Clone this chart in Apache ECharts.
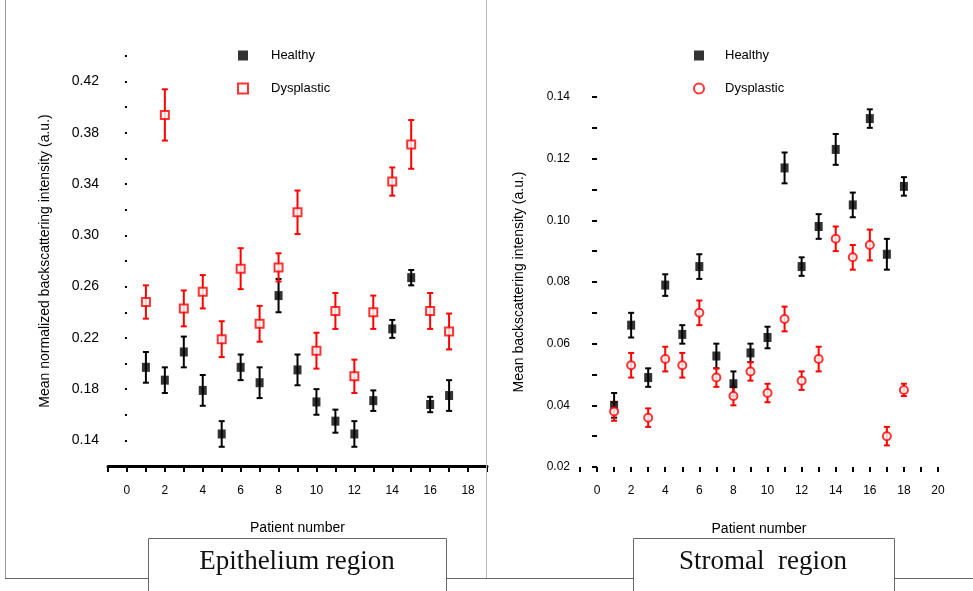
<!doctype html>
<html>
<head>
<meta charset="utf-8">
<title>Epithelium / Stromal region</title>
<style>
  html, body { margin: 0; padding: 0; background: #fff; }
  #main { width: 973px; height: 591px; }
</style>
</head>
<body>
<div id="main"></div>
<script src="https://cdn.jsdelivr.net/npm/echarts@6/dist/echarts.min.js"></script>
<script>
// epithelium region, patients 1-17
var epiPatients = [1, 2, 3, 4, 5, 6, 7, 8, 9, 10, 11, 12, 13, 14, 15, 16, 17];
var epiHealthy = [0.197, 0.187, 0.209, 0.179, 0.145, 0.197, 0.185, 0.253, 0.195, 0.170, 0.155, 0.145, 0.171, 0.227, 0.267, 0.168, 0.175];
var epiHealthyErr = [0.012, 0.010, 0.012, 0.012, 0.010, 0.010, 0.012, 0.013, 0.012, 0.010, 0.009, 0.010, 0.008, 0.007, 0.006, 0.006, 0.012];
var epiDysplastic = [0.248, 0.394, 0.243, 0.256, 0.219, 0.274, 0.231, 0.275, 0.318, 0.210, 0.241, 0.190, 0.240, 0.342, 0.371, 0.241, 0.225];
var epiDysplasticErr = [0.013, 0.020, 0.014, 0.013, 0.014, 0.016, 0.014, 0.011, 0.017, 0.014, 0.014, 0.013, 0.013, 0.011, 0.019, 0.014, 0.014];

// stromal region, patients 1-18
var stromaPatients = [1, 2, 3, 4, 5, 6, 7, 8, 9, 10, 11, 12, 13, 14, 15, 16, 17, 18];
var stromaHealthy = [0.040, 0.066, 0.049, 0.079, 0.063, 0.085, 0.056, 0.047, 0.057, 0.062, 0.117, 0.085, 0.098, 0.123, 0.105, 0.133, 0.089, 0.111];
var stromaHealthyErr = [0.004, 0.004, 0.003, 0.0035, 0.003, 0.004, 0.004, 0.004, 0.003, 0.0035, 0.005, 0.003, 0.004, 0.005, 0.004, 0.003, 0.005, 0.003];
var stromaDysplastic = [0.038, 0.053, 0.036, 0.055, 0.053, 0.070, 0.049, 0.043, 0.051, 0.044, 0.068, 0.048, 0.055, 0.094, 0.088, 0.092, 0.030, 0.045];
var stromaDysplasticErr = [0.003, 0.004, 0.003, 0.004, 0.004, 0.004, 0.003, 0.003, 0.003, 0.003, 0.004, 0.003, 0.004, 0.004, 0.004, 0.005, 0.003, 0.002];

var seriesNames = ['Healthy', 'Dysplastic'];

var chart = echarts.init(document.getElementById('main'));

function toPoints(xs, ys) {
  return xs.map(function (x, i) { return [x, ys[i]]; });
}

// vertical error bar with small caps
function errorBars(xs, means, errs, color, idx) {
  return {
    type: 'custom',
    xAxisIndex: idx,
    yAxisIndex: idx,
    silent: true,
    z: 2,
    data: xs.map(function (x, i) { return [x, means[i], errs[i]]; }),
    renderItem: function (params, api) {
      var x = api.value(0), m = api.value(1), e = api.value(2);
      var hi = api.coord([x, m + e]);
      var lo = api.coord([x, m - e]);
      var st = { stroke: color, lineWidth: 2 };
      return {
        type: 'group',
        children: [
          { type: 'line', shape: { x1: hi[0], y1: hi[1], x2: lo[0], y2: lo[1] }, style: st },
          { type: 'line', shape: { x1: hi[0] - 3, y1: hi[1], x2: hi[0] + 3, y2: hi[1] }, style: st },
          { type: 'line', shape: { x1: lo[0] - 3, y1: lo[1], x2: lo[0] + 3, y2: lo[1] }, style: st }
        ]
      };
    }
  };
}

var axisFont = { fontFamily: 'Liberation Sans', color: '#000' };

function evenLabel(v) {
  return (v >= 0 && v % 2 === 0) ? String(v) : '';
}

var option = {
  animation: false,
  backgroundColor: '#fff',
  grid: [
    { left: 108, right: 486, top: 56, bottom: 125 },
    { left: 580, right: 35, top: 97, bottom: 124 }
  ],
  legend: [
    {
      orient: 'vertical', left: 232, top: 44, itemGap: 20, itemWidth: 10, itemHeight: 10,
      data: [{ name: seriesNames[0], icon: 'rect' }, { name: seriesNames[1], icon: 'rect' }],
      textStyle: { fontFamily: 'Liberation Sans', fontSize: 13, color: '#000', padding: [0, 0, 0, 18] }
    },
    {
      orient: 'vertical', left: 688, top: 44, itemGap: 20, itemWidth: 10, itemHeight: 10,
      data: [{ name: seriesNames[0], icon: 'rect' }, { name: seriesNames[1], icon: 'circle' }],
      textStyle: { fontFamily: 'Liberation Sans', fontSize: 13, color: '#000', padding: [0, 0, 0, 16] }
    }
  ],
  xAxis: [
    {
      gridIndex: 0, type: 'value', min: -1, max: 19, interval: 1,
      name: 'Patient number', nameLocation: 'middle', nameGap: 55,
      nameTextStyle: { fontFamily: 'Liberation Sans', fontSize: 14, color: '#000' },
      axisLine: { onZero: false, lineStyle: { color: '#000', width: 3 } },
      axisTick: { length: 6, lineStyle: { color: '#000', width: 2 } },
      axisLabel: Object.assign({ fontSize: 12, margin: 19, formatter: evenLabel }, axisFont),
      splitLine: { show: false }
    },
    {
      gridIndex: 1, type: 'value', min: -1, max: 20, interval: 1,
      name: 'Patient number', nameLocation: 'middle', nameGap: 55,
      nameTextStyle: { fontFamily: 'Liberation Sans', fontSize: 14, color: '#000' },
      axisLine: { show: false, onZero: false },
      axisTick: { length: 5, lineStyle: { color: '#000', width: 2 } },
      axisLabel: Object.assign({ fontSize: 12, margin: 18, formatter: evenLabel }, axisFont),
      splitLine: { show: false }
    }
  ],
  yAxis: [
    {
      gridIndex: 0, type: 'value', min: 0.12, max: 0.44, interval: 0.02,
      name: 'Mean normalized backscattering intensity (a.u.)', nameLocation: 'middle', nameGap: 56,
      nameTextStyle: { fontFamily: 'Liberation Sans', fontSize: 14, color: '#000' },
      axisLine: { show: false },
      axisTick: { show: true, length: 2, lineStyle: { color: '#000', width: 2 } },
      axisLabel: Object.assign({ fontSize: 14, margin: 9, formatter: function (v) {
        var k = Math.round(v * 100);
        return (k % 4 === 2) ? v.toFixed(2) : '';
      } }, axisFont),
      splitLine: { show: false }
    },
    {
      gridIndex: 1, type: 'value', min: 0.02, max: 0.14, interval: 0.01,
      name: 'Mean backscattering intensity (a.u.)', nameLocation: 'middle', nameGap: 54,
      nameTextStyle: { fontFamily: 'Liberation Sans', fontSize: 14, color: '#000' },
      axisLine: { show: false },
      axisTick: { show: true, length: 5, lineStyle: { color: '#000', width: 2 } },
      axisLabel: Object.assign({ fontSize: 12, margin: 10, formatter: function (v) {
        var k = Math.round(v * 100);
        return (k % 2 === 0) ? v.toFixed(2) : '';
      } }, axisFont),
      splitLine: { show: false }
    }
  ],
  series: [
    errorBars(epiPatients, epiHealthy, epiHealthyErr, '#000', 0),
    errorBars(epiPatients, epiDysplastic, epiDysplasticErr, '#f00', 0),
    {
      name: seriesNames[0], type: 'scatter', xAxisIndex: 0, yAxisIndex: 0, z: 3,
      symbol: 'rect', symbolSize: [8, 9],
      itemStyle: { color: '#000' },
      data: toPoints(epiPatients, epiHealthy)
    },
    {
      name: seriesNames[1], type: 'scatter', xAxisIndex: 0, yAxisIndex: 0, z: 3,
      symbol: 'rect', symbolSize: 8,
      itemStyle: { color: '#fff', borderColor: '#f00', borderWidth: 2 },
      data: toPoints(epiPatients, epiDysplastic)
    },
    errorBars(stromaPatients, stromaHealthy, stromaHealthyErr, '#000', 1),
    errorBars(stromaPatients, stromaDysplastic, stromaDysplasticErr, '#f00', 1),
    {
      name: seriesNames[0], type: 'scatter', xAxisIndex: 1, yAxisIndex: 1, z: 3,
      symbol: 'rect', symbolSize: [8, 9],
      itemStyle: { color: '#000' },
      data: toPoints(stromaPatients, stromaHealthy)
    },
    {
      name: seriesNames[1], type: 'scatter', xAxisIndex: 1, yAxisIndex: 1, z: 3,
      symbol: 'circle', symbolSize: 8,
      itemStyle: { color: '#fff', borderColor: '#f00', borderWidth: 2 },
      data: toPoints(stromaPatients, stromaDysplastic)
    }
  ],
  graphic: [
    // page frame
    { type: 'line', z: 50, shape: { x1: 5.5, y1: 0, x2: 5.5, y2: 578 }, style: { stroke: '#9a9a9a', lineWidth: 1 } },
    { type: 'line', z: 50, shape: { x1: 486.5, y1: 0, x2: 486.5, y2: 578 }, style: { stroke: '#b5b5b5', lineWidth: 1 } },
    { type: 'line', z: 50, shape: { x1: 5, y1: 578.5, x2: 973, y2: 578.5 }, style: { stroke: '#666', lineWidth: 1 } },
    // caption boxes
    { type: 'rect', z: 60, shape: { x: 148.5, y: 538.5, width: 298, height: 70 }, style: { fill: '#fff', stroke: '#666', lineWidth: 1 } },
    { type: 'text', z: 61, x: 297, y: 562, style: { text: 'Epithelium region', font: '27px "Liberation Serif"', fill: '#111', align: 'center', verticalAlign: 'middle' } },
    { type: 'rect', z: 60, shape: { x: 633.5, y: 538.5, width: 261, height: 70 }, style: { fill: '#fff', stroke: '#666', lineWidth: 1 } },
    { type: 'text', z: 61, x: 763, y: 562, style: { text: 'Stromal  region', font: '27px "Liberation Serif"', fill: '#111', align: 'center', verticalAlign: 'middle' } }
  ]
};

chart.setOption(option);
</script>
</body>
</html>
